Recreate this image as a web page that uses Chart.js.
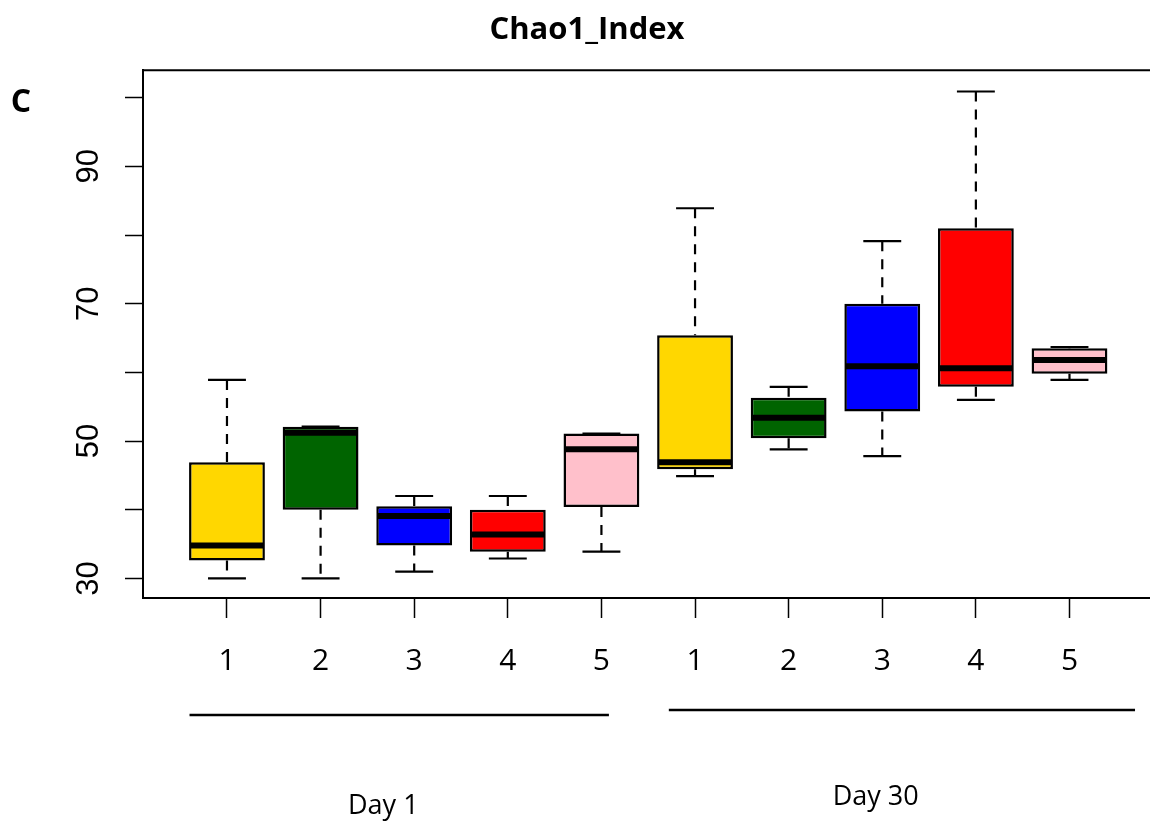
<!DOCTYPE html>
<html>
<head>
<meta charset="utf-8">
<script src="https://cdn.jsdelivr.net/npm/chart.js@4.4.1/dist/chart.umd.min.js"></script>
<style>
  body { margin: 0; background: #fff; }
  #wrap { width: 1150px; height: 823px; position: relative; }
</style>
</head>
<body>
<div id="wrap"><canvas id="boxChart"></canvas></div>
<script>
// Chao1 index, five treatments sampled at two time points
const groupLabels = ['Day 1', 'Day 30'];
const treatments = ['1', '2', '3', '4', '5'];
const positions = [1, 2, 3, 4, 5, 6, 7, 8, 9, 10];
const lowWhisker = [30.0, 30.0, 31.0, 32.9, 33.9, 44.9, 48.8, 47.8, 56.0, 58.9];
const q1 = [32.6, 40.0, 34.8, 33.9, 40.4, 45.9, 50.4, 54.3, 57.9, 59.8];
const median = [34.8, 51.2, 39.1, 36.4, 48.8, 46.9, 53.4, 60.9, 60.6, 61.8];
const q3 = [46.9, 52.1, 40.5, 40.0, 51.1, 65.4, 56.3, 70.0, 81.0, 63.5];
const highWhisker = [58.9, 52.1, 42.0, 42.0, 51.1, 83.9, 57.9, 79.1, 100.9, 63.7];
const yTicks = [30, 40, 50, 60, 70, 80, 90, 100];
const yLabelled = [30, 50, 70, 90];
const boxColors = ['#FFD700', '#006400', '#0000FF', '#FF0000', '#FFC0CB',
                   '#FFD700', '#006400', '#0000FF', '#FF0000', '#FFC0CB'];

const boxData = positions.map((p, i) => ({ x: p, y: [q1[i], q3[i]] }));

// whiskers under the boxes, medians on top, plus the R style extras
const boxExtras = {
    id: 'boxExtras',
    beforeDatasetsDraw(chart) {
        const { ctx, scales: { x, y } } = chart;
        const bars = chart.getDatasetMeta(0).data;
        ctx.save();
        ctx.strokeStyle = '#000';
        ctx.lineWidth = 2.2;
        positions.forEach((p, i) => {
            const cx = x.getPixelForValue(p);
            const capHalf = bars[i].width / 4;
            ctx.setLineDash([10, 8]);
            ctx.beginPath();
            ctx.moveTo(cx, y.getPixelForValue(highWhisker[i]));
            ctx.lineTo(cx, y.getPixelForValue(q3[i]));
            ctx.moveTo(cx, y.getPixelForValue(q1[i]));
            ctx.lineTo(cx, y.getPixelForValue(lowWhisker[i]));
            ctx.stroke();
            ctx.setLineDash([]);
            ctx.beginPath();
            [highWhisker[i], lowWhisker[i]].forEach(v => {
                const py = y.getPixelForValue(v);
                ctx.moveTo(cx - capHalf, py);
                ctx.lineTo(cx + capHalf, py);
            });
            ctx.stroke();
        });
        ctx.restore();
    },
    afterDatasetsDraw(chart) {
        const { ctx, chartArea, scales: { x, y } } = chart;
        const bars = chart.getDatasetMeta(0).data;
        ctx.save();
        ctx.strokeStyle = '#000';
        ctx.lineWidth = 6;
        positions.forEach((p, i) => {
            const cx = x.getPixelForValue(p);
            const half = bars[i].width / 2;
            const py = y.getPixelForValue(median[i]);
            ctx.beginPath();
            ctx.moveTo(cx - half + 1, py);
            ctx.lineTo(cx + half - 1, py);
            ctx.stroke();
        });

        // top frame line
        ctx.lineWidth = 2;
        ctx.beginPath();
        ctx.moveTo(chartArea.left, chartArea.top);
        ctx.lineTo(chartArea.right, chartArea.top);
        ctx.stroke();

        // group underlines and names
        ctx.lineWidth = 2.5;
        ctx.fillStyle = '#000';
        ctx.font = '27px "Open Sans"';
        ctx.textAlign = 'center';
        ctx.textBaseline = 'middle';
        const groupTweak = [{ l: -0.4, r: 0.08, ly: 715, ty: 806, tx: -0.33 },
                            { l: -0.28, r: 0.7, ly: 710, ty: 797, tx: -0.07 }];
        groupLabels.forEach((g, gi) => {
            const first = positions[gi * treatments.length];
            const last = positions[gi * treatments.length + treatments.length - 1];
            const t = groupTweak[gi];
            ctx.beginPath();
            ctx.moveTo(x.getPixelForValue(first + t.l), t.ly);
            ctx.lineTo(x.getPixelForValue(last + t.r), t.ly);
            ctx.stroke();
            ctx.fillText(g, x.getPixelForValue((first + last) / 2 + t.tx), t.ty);
        });

        // panel letter
        ctx.font = 'bold 32px "Open Sans"';
        ctx.fillText('C', 21, 103);
        ctx.restore();
    }
};

const ctx = document.getElementById('boxChart').getContext('2d');
new Chart(ctx, {
    type: 'bar',
    data: {
        datasets: [{
            data: boxData,
            backgroundColor: boxColors,
            borderColor: '#000',
            borderWidth: 2.5,
            borderSkipped: false,
            categoryPercentage: 1.0,
            barPercentage: 0.81
        }]
    },
    plugins: [boxExtras],
    options: {
        responsive: true,
        maintainAspectRatio: false,
        animation: false,
        layout: { padding: { left: 24, right: 0, top: 0, bottom: 0 } },
        plugins: {
            legend: { display: false },
            tooltip: { enabled: false },
            title: {
                display: true,
                text: 'Chao1_Index',
                color: '#000',
                font: { family: 'Open Sans', size: 31, weight: 'bold' },
                padding: { top: 12, bottom: 21 }
            }
        },
        scales: {
            x: {
                type: 'linear',
                offset: false,
                min: 0.103,
                max: 10.86,
                afterBuildTicks: s => { s.ticks = positions.map(v => ({ value: v })); },
                afterFit: s => { s.height = 225; },
                grid: { offset: false, drawOnChartArea: false, tickLength: 20, tickColor: '#000', tickWidth: 1.5 },
                border: { color: '#000', width: 2 },
                ticks: {
                    color: '#000',
                    padding: 25,
                    autoSkip: false,
                    maxRotation: 0,
                    font: { family: 'Open Sans', size: 30 },
                    callback: v => treatments[(v - 1) % treatments.length]
                }
            },
            y: {
                min: 27.15,
                max: 104.0,
                afterBuildTicks: s => { s.ticks = yTicks.map(v => ({ value: v })); },
                afterFit: s => { s.width = 119; },
                grid: { drawOnChartArea: false, tickLength: 18, tickColor: '#000', tickWidth: 1.5 },
                border: { color: '#000', width: 2 },
                ticks: {
                    color: '#000',
                    padding: 18,
                    autoSkip: false,
                    minRotation: 90,
                    maxRotation: 90,
                    crossAlign: 'center',
                    font: { family: 'Liberation Sans', size: 31 },
                    callback: v => yLabelled.includes(v) ? String(v) : ''
                }
            }
        }
    }
});
</script>
</body>
</html>
